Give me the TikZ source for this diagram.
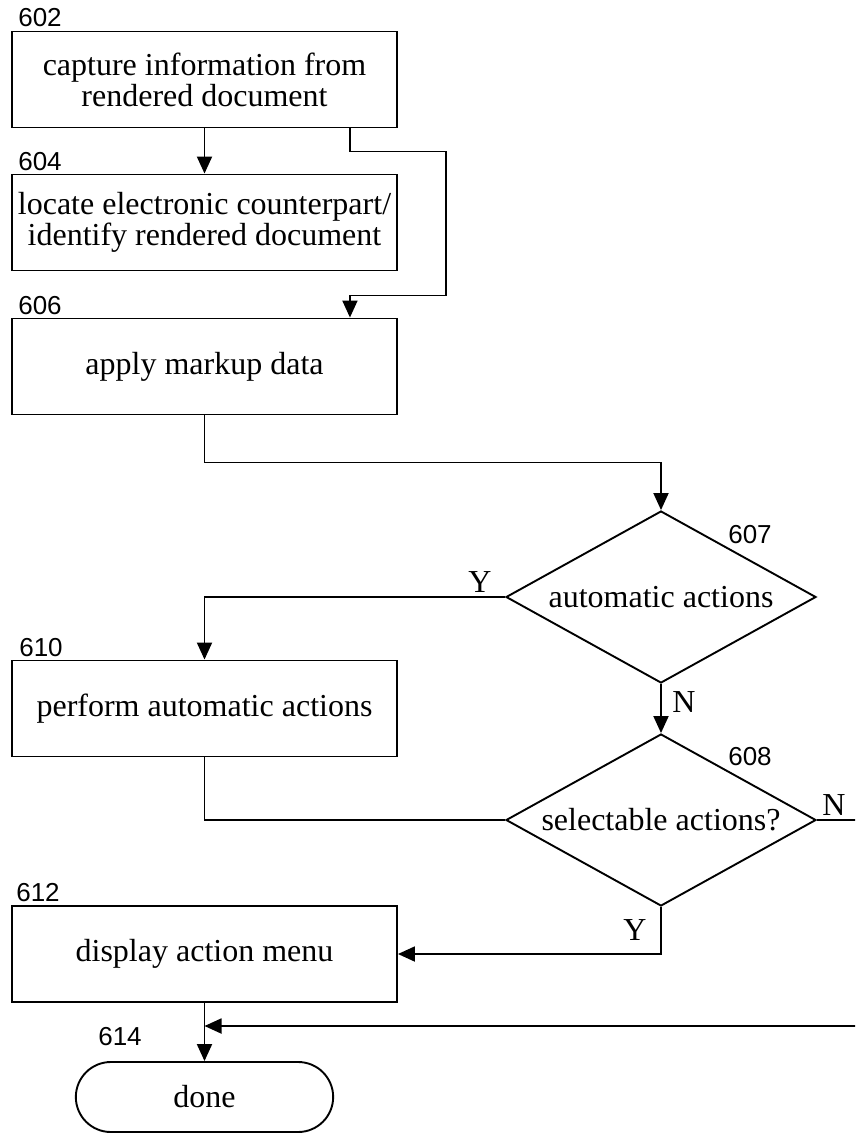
\documentclass[tikz,border=0pt]{standalone}
\usepackage{fontspec}
\setmainfont{Liberation Serif}
\newfontfamily\numfont{Liberation Sans}
\usetikzlibrary{arrows.meta, shapes.geometric, shapes.misc}

\begin{document}
\begin{tikzpicture}[x=1pt, y=-1pt, line width=1.9pt,
  box/.style={draw, rectangle, minimum width=385, minimum height=96, align=center, inner sep=0pt,
    font=\fontsize{32}{31}\selectfont},
  decision/.style={draw, diamond, aspect=1.8, minimum width=310, minimum height=172, inner sep=0pt,
    font=\fontsize{32}{31}\selectfont},
  terminal/.style={draw, rounded rectangle, minimum width=264, minimum height=70,
    font=\fontsize{32}{31}\selectfont},
  refnum/.style={font=\numfont\fontsize{26}{26}\selectfont},
  yn/.style={font=\fontsize{32}{31}\selectfont},
  flow/.style={-{Triangle[length=17pt, width=15pt]}}]

\path[use as bounding box] (0,0) rectangle (855,1133);
\clip (0,0) rectangle (855,1133);

\node[box] (b602) at (204.5,79.5) {capture information from\\rendered document};
\node[box] (b604) at (204.5,222.5) {locate electronic counterpart/\\identify rendered document};
\node[box] (b606) at (204.5,366.5) {apply markup data};
\node[decision] (d607) at (661,597) {automatic actions};
\node[box] (b610) at (204.5,708.5) {perform automatic actions};
\node[decision] (d608) at (661,820) {selectable actions?};
\node[box] (b612) at (204.5,954) {display action menu};
\node[terminal] (done) at (204.5,1097) {done};
\coordinate (mrg) at (204.5,1026);

\node[refnum] (n602) at (40,18) {602};
\node[refnum] (n604) at (40,162) {604};
\node[refnum] (n606) at (40,306) {606};
\node[refnum] (n607) at (750,535) {607};
\node[refnum] (n610) at (41,648) {610};
\node[refnum] (n608) at (750,757) {608};
\node[refnum] (n612) at (38,893) {612};
\node[refnum] (n614) at (120,1037) {614};

\node[yn] (y607) at (480,582) {Y};
\node[yn] (no607) at (684,702) {N};
\node[yn] (no608) at (834,805) {N};
\node[yn] (y608) at (635,930) {Y};

\draw[flow] (b602) -- (b604);
\draw[flow] ([xshift=-48]b602.south east) -- ++(0,23) -| ++(96,144) -| ([xshift=-48]b606.north east);
\draw[flow] (b606.south) -- ++(0,47) -| (d607.north);
\draw[flow] (d607.west) -| (b610.north);
\draw[flow] (d607.south) -- (d608.north);
\draw (b610.south) |- (d608.west);
\draw[flow] (d608.south) |- (b612.east);
\draw[flow] (d608.east) -- ++(60,0) |- (mrg);
\draw[flow] (b612.south) -- (done.north);

\end{tikzpicture}
\end{document}
